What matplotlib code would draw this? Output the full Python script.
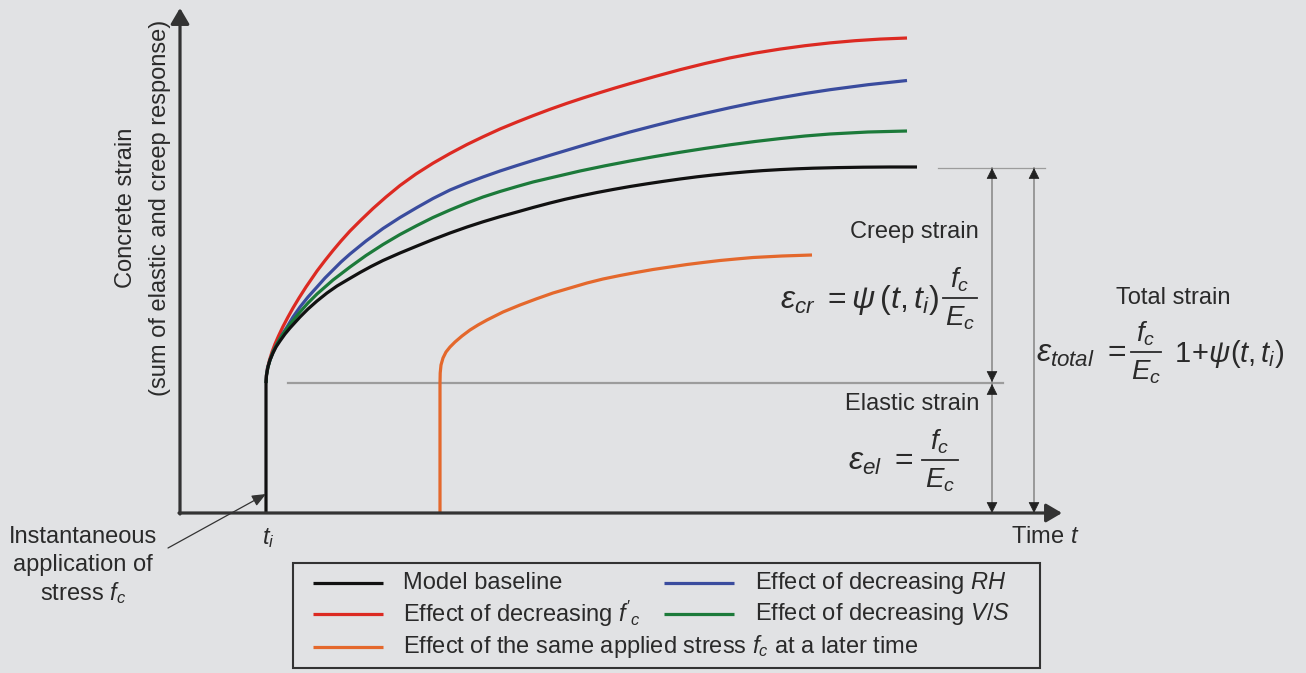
import matplotlib
matplotlib.use("Agg")
import matplotlib.pyplot as plt
from matplotlib.patches import Rectangle

plt.rcParams['font.family'] = ['Liberation Sans', 'DejaVu Sans']
plt.rcParams['mathtext.fontset'] = 'custom'
plt.rcParams['mathtext.rm'] = 'Liberation Sans'
plt.rcParams['mathtext.it'] = 'Liberation Sans:italic'
plt.rcParams['mathtext.bf'] = 'Liberation Sans:bold'

# ---------------- data (arbitrary schematic units) ----------------
t_i = 8.6
elastic_strain = 13.0
total_strain = 34.5

baseline_t = [8.6, 8.6, 8.65, 8.8, 9.0, 9.3, 9.6, 10.0, 10.5, 11.0, 11.5, 12.0, 12.8, 13.7, 14.7,
              15.7, 16.8, 18.0, 19.1, 20.3, 22.0, 23.7, 25.3, 27.0, 28.7, 30.3, 32.0, 33.7, 35.3,
              37.0, 38.5, 40.0, 41.7, 43.3, 45.0, 46.7, 48.3, 50.0, 51.7, 53.3, 55.0, 56.7, 58.3,
              60.0, 61.7, 63.3, 65.8, 68.3, 71.0, 73.7]
baseline_s = [0.0, 13.0, 13.8, 14.6, 15.3, 16.0, 16.6, 17.2, 17.9, 18.5, 19.05, 19.6, 20.4, 21.2,
              22.0, 22.7, 23.35, 24.05, 24.65, 25.25, 26.0, 26.7, 27.35, 28.0, 28.6, 29.12, 29.63,
              30.1, 30.55, 31.0, 31.37, 31.7, 32.05, 32.35, 32.65, 32.92, 33.16, 33.4, 33.62, 33.8,
              33.97, 34.12, 34.24, 34.34, 34.42, 34.48, 34.54, 34.58, 34.6, 34.6]

red_t = [8.6, 8.65, 8.75, 8.95, 9.2, 9.5, 9.85, 10.3, 10.8, 11.3, 11.9, 12.6, 13.7, 14.5, 15.3,
         16.1, 17.0, 18.1, 19.3, 20.6, 22.0, 23.6, 25.3, 27.0, 28.7, 30.3, 32.0, 33.7, 35.3, 37.0,
         38.7, 40.3, 42.0, 43.5, 45.0, 47.5, 50.0, 52.5, 55.0, 57.5, 60.0, 62.5, 65.0, 67.5, 70.0,
         72.7]
red_s = [13.0, 13.8, 14.5, 15.3, 16.1, 16.9, 17.7, 18.65, 19.6, 20.5, 21.5, 22.6, 24.2, 25.25,
         26.25, 27.2, 28.2, 29.3, 30.45, 31.6, 32.75, 33.9, 34.98, 35.95, 36.85, 37.62, 38.4, 39.1,
         39.73, 40.37, 40.97, 41.5, 42.04, 42.5, 42.94, 43.65, 44.33, 44.95, 45.51, 45.99, 46.39,
         46.73, 47.01, 47.23, 47.39, 47.5]

blue_t = [8.6, 8.65, 8.75, 9.0, 9.3, 9.7, 10.2, 10.7, 11.3, 12.0, 12.8, 13.7, 14.5, 15.3, 16.1,
          17.0, 18.6, 20.3, 22.0, 23.7, 25.3, 27.0, 28.7, 30.3, 32.0, 33.7, 35.3, 37.0, 38.5, 40.0,
          42.5, 45.0, 47.5, 50.0, 52.5, 55.0, 57.5, 60.0, 62.5, 65.0, 68.8, 72.7]
blue_s = [13.0, 13.8, 14.5, 15.3, 16.1, 16.9, 17.8, 18.6, 19.6, 20.6, 21.6, 22.6, 23.5, 24.3, 25.1,
          25.9, 27.2, 28.45, 29.55, 30.55, 31.45, 32.3, 33.0, 33.6, 34.2, 34.75, 35.25, 35.77,
          36.22, 36.67, 37.4, 38.1, 38.75, 39.38, 39.97, 40.53, 41.05, 41.52, 41.95, 42.33, 42.83,
          43.25]

green_t = [8.6, 8.65, 8.8, 9.0, 9.3, 9.8, 10.3, 11.1, 12.0, 12.8, 13.7, 15.3, 17.0, 18.6, 20.3,
           22.0, 23.7, 25.3, 27.0, 28.7, 30.3, 32.0, 33.7, 35.3, 37.0, 38.5, 40.0, 42.5, 45.0, 47.5,
           50.0, 52.5, 55.0, 57.5, 60.0, 62.5, 65.0, 68.8, 72.7]
green_s = [13.0, 13.8, 14.6, 15.3, 16.1, 17.1, 17.9, 19.0, 20.1, 21.0, 21.9, 23.3, 24.6, 25.75,
           26.85, 27.85, 28.75, 29.55, 30.3, 31.0, 31.6, 32.15, 32.65, 33.1, 33.5, 33.85, 34.2,
           34.72, 35.2, 35.65, 36.07, 36.46, 36.82, 37.15, 37.44, 37.7, 37.9, 38.1, 38.2]

orange_t = [26.0, 26.0, 26.02, 26.1, 26.3, 26.6, 27.0, 27.5, 28.2, 29.0, 29.8, 30.7, 32.3, 34.0,
            35.6, 37.3, 39.0, 40.7, 42.3, 44.0, 45.6, 47.3, 49.0, 50.7, 52.3, 54.0, 55.6, 57.3,
            60.2, 63.2]
orange_s = [0.0, 13.0, 14.0, 14.8, 15.5, 16.1, 16.6, 17.1, 17.7, 18.3, 18.8, 19.3, 20.1, 20.8,
            21.4, 22.0, 22.5, 23.0, 23.4, 23.75, 24.05, 24.35, 24.6, 24.85, 25.05, 25.25, 25.4,
            25.55, 25.7, 25.8]

legend_labels = ["Model baseline", r"Effect of decreasing $f'_c$",
                 r"Effect of the same applied stress $f_c$ at a later time",
                 r"Effect of decreasing $RH$", r"Effect of decreasing $V/S$"]

# ---------------- styles ----------------
BG = '#e1e2e4'
C_BLACK = '#111111'
C_RED = '#dc2a22'
C_BLUE = '#3a4c9e'
C_GREEN = '#1c7a3a'
C_ORANGE = '#e4682c'
C_AXIS = '#333333'
C_DIM = '#8c8c8c'
C_TXT = '#2a2a2a'
FS = 17
FSM = 23   # formula size
FSF = 20   # fraction parts

W, H = 1306, 673
fig = plt.figure(figsize=(W / 100, H / 100), dpi=100, facecolor=BG)

# main schematic axes: origin at pixel (180, 513)
ax = fig.add_axes([180 / W, (H - 513) / H, (1062 - 180) / W, (513 - 8) / H])
ax.set_xlim(0, 88.2)
ax.set_ylim(0, 50.5)
ax.set_axis_off()
ax.patch.set_alpha(0)

lw_curve = 2.3
kw = dict(lw=lw_curve, solid_capstyle='butt', solid_joinstyle='round')
ax.plot(red_t, red_s, color=C_RED, zorder=3, **kw)
ax.plot(blue_t, blue_s, color=C_BLUE, zorder=3, **kw)
ax.plot(green_t, green_s, color=C_GREEN, zorder=3, **kw)
ax.plot(baseline_t, baseline_s, color=C_BLACK, zorder=4, **kw)
ax.plot(orange_t, orange_s, color=C_ORANGE, zorder=4, **kw)

# axes arrows
arr = dict(arrowstyle='-|>,head_length=0.68,head_width=0.4', color=C_AXIS, lw=2.3,
           shrinkA=0, shrinkB=0, mutation_scale=14)
ax.annotate('', xy=(88.2, 0), xytext=(-0.1, 0), arrowprops=arr, annotation_clip=False, zorder=5)
ax.annotate('', xy=(0, 50.5), xytext=(0, -0.1), arrowprops=arr, annotation_clip=False, zorder=5)

# reference lines
ax.plot([10.8, 82.3], [elastic_strain, elastic_strain], color='#9c9c9c', lw=1.6, zorder=2)
ax.plot([75.8, 86.5], [total_strain, total_strain], color='#9c9c9c', lw=0.9, zorder=2)


def dim_arrow(x, y0, y1):
    ax.plot([x, x], [y0, y1], color=C_DIM, lw=1.2, zorder=2)
    hp = dict(arrowstyle='-|>,head_length=0.7,head_width=0.35', color='#222222', lw=0.5,
              shrinkA=0, shrinkB=0, mutation_scale=10)
    ax.annotate('', xy=(x, y1), xytext=(x, y1 - 0.8), arrowprops=hp, zorder=3)
    ax.annotate('', xy=(x, y0), xytext=(x, y0 + 0.8), arrowprops=hp, zorder=3)


dim_arrow(81.2, elastic_strain + 0.1, total_strain)
dim_arrow(81.2, 0.0, elastic_strain - 0.1)
dim_arrow(85.4, 0.0, total_strain)

# ---------------- overlay in pixel coordinates ----------------
ov = fig.add_axes([0, 0, 1, 1])
ov.set_xlim(0, W)
ov.set_ylim(H, 0)
ov.set_axis_off()
ov.patch.set_alpha(0)

txt = dict(fontsize=FS, color=C_TXT)
ov.text(126, 208, 'Concrete strain', rotation=90, ha='center', va='center', **txt)
ov.text(160, 208, '(sum of elastic and creep response)', rotation=90, ha='center', va='center', **txt)


def fraction(xc, yc, half, dy_num=18, dy_den=20):
    ov.plot([xc - half, xc + half], [yc, yc], color=C_TXT, lw=1.3)
    ov.text(xc, yc - dy_num, r'$f_c$', ha='center', va='center', fontsize=FSF, color=C_TXT)
    ov.text(xc, yc + dy_den, r'$E_c$', ha='center', va='center', fontsize=FSF, color=C_TXT)


# creep strain
ov.text(914, 232, 'Creep strain', ha='center', va='center', **txt)
ov.text(939, 300, r'$\varepsilon_{cr}\ =\psi\,(t,t_i)$', ha='right', va='center',
        fontsize=FSM, color=C_TXT)
fraction(960, 298, 17)

# total strain
ov.text(1173, 298, 'Total strain', ha='center', va='center', **txt)
ov.text(1126, 354, r'$\varepsilon_{total}\ =$', ha='right', va='center', fontsize=FSM, color=C_TXT)
fraction(1146, 352, 15)
ov.text(1174, 354, r'$1\!+\!\psi(t,t_i)$', ha='left', va='center', fontsize=21, color=C_TXT)

# elastic strain
ov.text(912, 404, 'Elastic strain', ha='center', va='center', **txt)
ov.text(914, 462, r'$\varepsilon_{el}\ =$', ha='right', va='center', fontsize=FSM, color=C_TXT)
fraction(940, 460, 18)

ov.text(268, 538, r'$t_i$', ha='center', va='center', **txt)
ov.text(1045, 537, r'Time $t$', ha='center', va='center', **txt)

ov.text(83, 537, 'Instantaneous', ha='center', va='center', **txt)
ov.text(83, 565, 'application of', ha='center', va='center', **txt)
ov.text(83, 593, r'stress $f_c$', ha='center', va='center', **txt)
ov.annotate('', xy=(266, 494), xytext=(168, 548),
            arrowprops=dict(arrowstyle='-|>,head_length=0.6,head_width=0.25', color='#333333',
                            lw=0.9, shrinkA=0, shrinkB=0, mutation_scale=14))

# ---------------- legend box ----------------
ov.add_patch(Rectangle((293, 563), 747, 105, facecolor='none', edgecolor='#333333', lw=1.5))
leg_pos = [(313, 383, 403, 583), (313, 383, 403, 614), (313, 383, 403, 647),
           (664, 734, 755, 583), (664, 734, 755, 614)]
leg_colors = [C_BLACK, C_RED, C_ORANGE, C_BLUE, C_GREEN]
for (x0, x1, xt, y), c, lab in zip(leg_pos, leg_colors, legend_labels):
    ov.plot([x0, x1], [y, y], color=c, lw=2.3, solid_capstyle='butt')
    ov.text(xt, y, lab, ha='left', va='center', **txt)

fig.savefig('out.png', dpi=100, facecolor=BG)
